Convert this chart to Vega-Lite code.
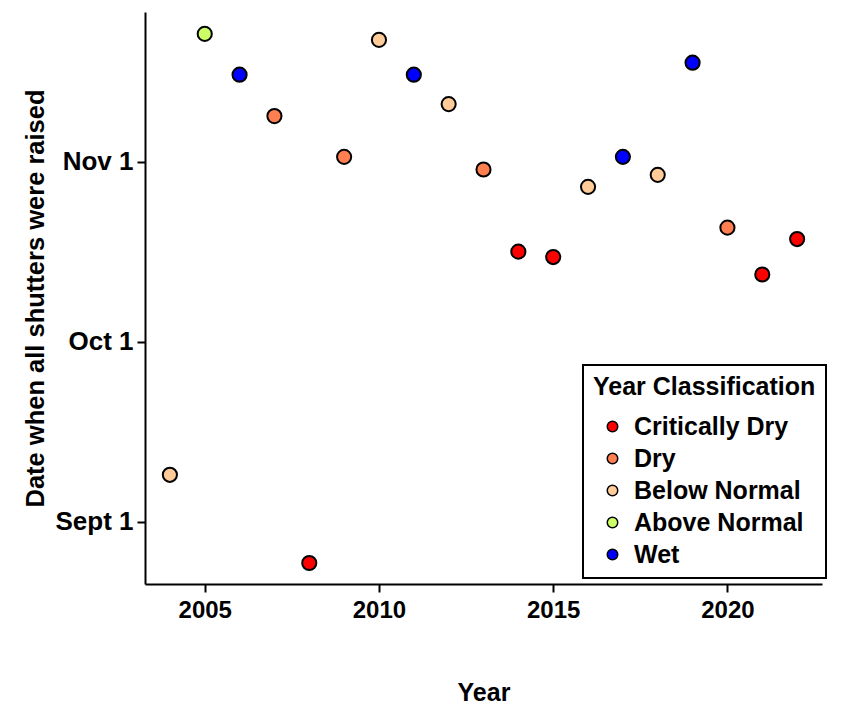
{
  "$schema": "https://vega.github.io/schema/vega-lite/v6.json",
  "width": 677,
  "height": 572,
  "autosize": {"type": "none"},
  "padding": {"left": 145, "top": 12, "right": 44, "bottom": 126},
  "background": "white",
  "config": {"view": {"stroke": null}, "font": "Liberation Sans"},
  "data": {"values": [
    {"year": 2004, "day": 7.8, "cls": "Below Normal"},
    {"year": 2005, "day": 81.3, "cls": "Above Normal"},
    {"year": 2006, "day": 74.5, "cls": "Wet"},
    {"year": 2007, "day": 67.6, "cls": "Dry"},
    {"year": 2008, "day": -6.9, "cls": "Critically Dry"},
    {"year": 2009, "day": 60.8, "cls": "Dry"},
    {"year": 2010, "day": 80.3, "cls": "Below Normal"},
    {"year": 2011, "day": 74.5, "cls": "Wet"},
    {"year": 2012, "day": 69.6, "cls": "Below Normal"},
    {"year": 2013, "day": 58.7, "cls": "Dry"},
    {"year": 2014, "day": 45.0, "cls": "Critically Dry"},
    {"year": 2015, "day": 44.1, "cls": "Critically Dry"},
    {"year": 2016, "day": 55.8, "cls": "Below Normal"},
    {"year": 2017, "day": 60.8, "cls": "Wet"},
    {"year": 2018, "day": 57.8, "cls": "Below Normal"},
    {"year": 2019, "day": 76.5, "cls": "Wet"},
    {"year": 2020, "day": 49.0, "cls": "Dry"},
    {"year": 2021, "day": 41.2, "cls": "Critically Dry"},
    {"year": 2022, "day": 47.1, "cls": "Critically Dry"}
  ]},
  "mark": {"type": "circle", "size": 200, "stroke": "black", "strokeWidth": 2, "opacity": 1},
  "encoding": {
    "x": {
      "field": "year", "type": "quantitative",
      "scale": {"domain": [2003.286, 2022.714], "nice": false, "zero": false},
      "axis": {
        "values": [2005, 2010, 2015, 2020], "format": "d", "grid": false,
        "domainColor": "black", "domainWidth": 2, "tickColor": "black", "tickWidth": 2, "tickSize": 8,
        "labelFont": "Liberation Sans", "labelFontSize": 24, "labelFontWeight": "bold", "labelColor": "black", "labelPadding": 6,
        "title": "Year", "titleFont": "Liberation Sans", "titleFontSize": 25, "titleFontWeight": "bold", "titleColor": "black", "titlePadding": 58
      }
    },
    "y": {
      "field": "day", "type": "quantitative",
      "scale": {"domain": [-10.4, 84.95], "nice": false, "zero": false},
      "axis": {
        "values": [0, 30, 60], "grid": false,
        "labelExpr": "datum.value == 0 ? 'Sept 1' : datum.value == 30 ? 'Oct 1' : 'Nov 1'",
        "domainColor": "black", "domainWidth": 2, "tickColor": "black", "tickWidth": 2, "tickSize": 8,
        "labelFont": "Liberation Sans", "labelFontSize": 26, "labelFontWeight": "bold", "labelColor": "black", "labelPadding": 4,
        "title": "Date when all shutters were raised", "titleFont": "Liberation Sans", "titleFontSize": 25.5, "titleFontWeight": "bold", "titleColor": "black", "titlePadding": 6
      }
    },
    "color": {
      "field": "cls", "type": "nominal",
      "scale": {
        "domain": ["Critically Dry", "Dry", "Below Normal", "Above Normal", "Wet"],
        "range": ["#ff0000", "#ff7f50", "#ffcc99", "#ccff66", "#0000ff"]
      },
      "legend": {
        "title": "Year Classification", "orient": "none", "legendX": 438, "legendY": 353,
        "strokeColor": "black", "fillColor": "white", "padding": 10,
        "titleFont": "Liberation Sans", "titleFontSize": 25, "titleFontWeight": "bold", "titleColor": "black", "titlePadding": 14, "titleLimit": 400,
        "labelFont": "Liberation Sans", "labelFontSize": 25, "labelFontWeight": "bold", "labelColor": "black", "labelOffset": 9, "labelLimit": 400,
        "symbolType": "circle", "symbolSize": 110, "symbolStrokeColor": "black", "symbolStrokeWidth": 1.5, "symbolOpacity": 1, "symbolOffset": 7,
        "rowPadding": 6,
        "encode": {"legend": {"update": {"strokeWidth": {"value": 2}}}}
      }
    }
  }
}
